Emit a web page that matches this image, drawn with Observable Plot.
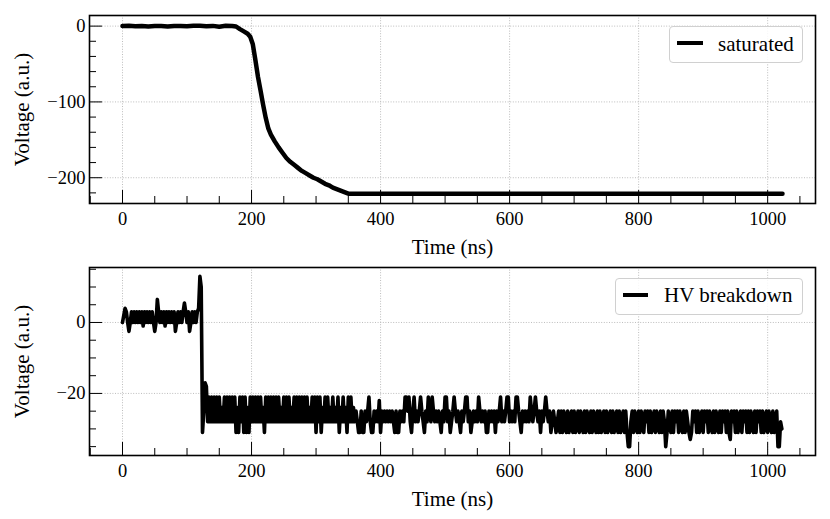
<!DOCTYPE html>
<html><head><meta charset="utf-8">
<script src="https://cdn.jsdelivr.net/npm/d3@7"></script>
<script src="https://cdn.jsdelivr.net/npm/@observablehq/plot@0.6"></script>
<style>
html,body{margin:0;padding:0;background:#fff;}
#wrap{position:relative;width:830px;height:519px;font-family:"Liberation Serif","Tinos","Times New Roman","Nimbus Roman","DejaVu Serif",serif;}
#wrap svg{display:block;}
g[aria-label="x-axis label"] text, g[aria-label="y-axis label"] text{font-size:21px;}
.legend{position:absolute;box-sizing:border-box;border:1px solid #d0d0d0;border-radius:4px;background:rgba(255,255,255,0.85);}
.legend .swatch{position:absolute;height:4px;background:#000;}
.legend .lab{position:absolute;font-size:21px;line-height:1;white-space:nowrap;color:#000;}
</style></head><body><div id="wrap"></div>
<script>
// ---- data ----
const xMajor = [0, 200, 400, 600, 800, 1000];
const xMinor = [-50, 50, 100, 150, 250, 300, 350, 450, 500, 550, 650, 700, 750, 850, 900, 950, 1050];
const xDomain = [-51.15, 1074.15];

const satTime = [0,10,20,30,40,50,60,70,80,90,100,110,120,130,140,150,160,170,176,182,188,194,198,202,206,210,214,218,222,226,230,236,242,248,254,260,266,272,278,284,290,296,302,308,314,320,326,332,338,344,350,356,400,500,600,700,800,900,1000,1023];
const satVolt = [0,0.4,-0.3,0.2,-0.4,0.3,0,-0.5,0.3,0.2,-0.3,0.4,0.5,-0.2,0.3,-0.8,0.4,0.2,-0.5,-4,-7,-10,-14,-24,-45,-67,-85,-104,-121,-135,-143,-152,-160,-167,-174,-179,-183,-187,-191,-194,-197,-200,-202,-205,-208,-210,-213,-215,-217,-219,-221,-221,-221,-221,-221,-221,-221,-221,-221,-221];
const satYMajor = [0, -100, -200];
const satYMinor = [-20, -40, -60, -80, -120, -140, -160, -180, -220];
const satYDomain = [-234, 14];

const hvStep = 2; // ns per sample
const hvVolt = [
  0,2,4,3,0,-2.5,0,3,0,3,0,3,0,3,0,3,-1,3,0,3,
  0,3,0,3,0,-2.5,0,6.5,3,0,3,0,3,-1,3,0,3,0,3,0,
  3,-2.5,0,3,0,3,0,3,5.5,3,0,3,-2.5,0,3,0,3,0,3,4,
  13,10,-31,-25,-17,-18,-28,-21,-28,-21,-28,-21,-28,-21,-28,-21,-28,-24,-28,-21,
  -28,-21,-28,-21,-28,-21,-28,-21,-31,-24,-31,-21,-28,-21,-31,-21,-31,-24,-31,-21,
  -28,-21,-28,-21,-28,-21,-28,-21,-28,-24,-31,-21,-28,-21,-28,-21,-28,-21,-28,-21,
  -28,-21,-28,-24,-28,-21,-28,-21,-28,-21,-28,-24,-28,-21,-28,-21,-28,-21,-28,-21,
  -28,-21,-28,-21,-28,-24,-28,-21,-28,-21,-31,-21,-28,-21,-31,-24,-28,-21,-28,-21,
  -28,-24,-28,-21,-28,-24,-28,-21,-31,-24,-28,-21,-28,-24,-31,-21,-28,-21,-28,-24,
  -28,-25,-28,-31,-31,-25,-31,-31,-25,-28,-25,-21,-28,-31,-31,-25,-28,-25,-28,-22,
  -31,-25,-28,-25,-28,-25,-28,-25,-28,-25,-28,-31,-25,-31,-31,-25,-28,-25,-28,-21,
  -21,-25,-21,-28,-31,-25,-21,-28,-25,-28,-25,-21,-25,-28,-31,-25,-28,-21,-25,-28,
  -21,-25,-28,-25,-28,-25,-28,-31,-25,-28,-21,-21,-28,-25,-31,-28,-25,-21,-25,-28,
  -25,-28,-31,-25,-28,-25,-21,-21,-28,-25,-31,-28,-25,-28,-25,-28,-21,-25,-28,-25,
  -28,-25,-31,-31,-25,-28,-25,-28,-25,-31,-25,-28,-25,-21,-28,-25,-28,-25,-21,-21,
  -28,-25,-28,-25,-28,-21,-21,-25,-28,-31,-25,-28,-25,-28,-25,-28,-21,-25,-28,-25,
  -21,-25,-28,-25,-31,-25,-28,-25,-21,-25,-28,-25,-31,-28,-25,-28,-31,-28,-25,-31,
  -25,-31,-25,-28,-31,-25,-31,-28,-25,-31,-25,-31,-28,-25,-31,-25,-28,-31,-25,-31,
  -25,-28,-31,-25,-31,-25,-28,-31,-25,-31,-25,-31,-28,-25,-31,-25,-31,-28,-25,-31,
  -25,-31,-28,-25,-31,-25,-31,-28,-25,-31,-25,-31,-35,-35,-28,-25,-31,-25,-28,-31,
  -25,-31,-25,-28,-31,-25,-28,-25,-31,-25,-31,-28,-25,-31,-25,-28,-31,-25,-31,-25,
  -28,-35,-31,-25,-28,-31,-25,-31,-25,-28,-25,-31,-25,-28,-31,-25,-31,-25,-28,-31,
  -33,-31,-25,-28,-25,-31,-25,-31,-28,-25,-31,-25,-28,-25,-31,-25,-28,-31,-25,-31,
  -25,-28,-31,-25,-31,-25,-28,-25,-31,-25,-31,-33,-25,-28,-25,-31,-25,-31,-28,-25,
  -31,-25,-28,-25,-31,-25,-31,-25,-28,-31,-25,-31,-25,-28,-25,-31,-25,-31,-28,-25,
  -31,-25,-28,-31,-25,-31,-28,-25,-35,-35,-28,-30
];
const hvYMajor = [0, -20];
const hvYMinor = [15, 10, 5, -5, -10, -15, -25, -30, -35];
const hvYDomain = [-37.5, 15.5];

const satData = satTime.map((t, i) => ({t, v: satVolt[i]}));
const hvData = hvVolt.map((v, i) => ({t: i * hvStep, v}));

const fmt = d => String(d).replace("-", "\u2212");
const FONT = "Liberation Serif, Tinos, Times New Roman, Nimbus Roman, DejaVu Serif, serif";

function panel({data, yDomain, yMajor, yMinor, height, marginTop, marginBottom, sw}) {
  const W = 830, mL = 89, mR = 15;
  const frameH = height - marginTop - marginBottom;
  const frameW = W - mL - mR;
  const grid = {stroke: "#b5b5b5", strokeOpacity: 1, strokeWidth: 0.9, strokeDasharray: "1,1.6"};
  return Plot.plot({
    width: W, height, marginLeft: mL, marginRight: mR, marginTop, marginBottom,
    style: {fontFamily: FONT, fontSize: "18.5px", color: "#000", background: "#fff", overflow: "visible"},
    x: {domain: xDomain},
    y: {domain: yDomain},
    marks: [
      Plot.gridX(xMajor, grid),
      Plot.gridY(yMajor, grid),
      Plot.line(data, {x: "t", y: "v", stroke: "#000", strokeWidth: sw, strokeLinejoin: "round", strokeLinecap: "round"}),
      Plot.ruleX(xMajor, {x: d => d, stroke: "#000", strokeWidth: 1, insetTop: frameH - 13}),
      Plot.ruleX(xMinor, {x: d => d, stroke: "#000", strokeWidth: 1, insetTop: frameH - 7}),
      Plot.ruleY(yMajor, {y: d => d, stroke: "#000", strokeWidth: 1, insetRight: frameW - 13}),
      Plot.ruleY(yMinor, {y: d => d, stroke: "#000", strokeWidth: 1, insetRight: frameW - 7}),
      Plot.axisX(xMajor, {tickSize: 0, tickPadding: 8, tickFormat: fmt, label: "Time (ns)", labelAnchor: "center", labelArrow: "none", labelOffset: 50}),
      Plot.axisY(yMajor, {tickSize: 0, tickPadding: 4, tickFormat: fmt, label: "Voltage (a.u.)", labelAnchor: "center", labelArrow: "none", labelOffset: 75}),
      Plot.frame({stroke: "#000", strokeWidth: 1.6})
    ]
  });
}

const wrap = document.getElementById("wrap");
wrap.appendChild(panel({data: satData, yDomain: satYDomain, yMajor: satYMajor, yMinor: satYMinor, height: 255, marginTop: 15, marginBottom: 52, sw: 4.5}));
wrap.appendChild(panel({data: hvData, yDomain: hvYDomain, yMajor: hvYMajor, yMinor: hvYMinor, height: 264, marginTop: 12, marginBottom: 64, sw: 3.6}));

function legend(label, box, sw, textX, baseline) {
  const d = document.createElement("div");
  d.className = "legend";
  Object.assign(d.style, {left: box[0] + "px", top: box[1] + "px", width: (box[2] - box[0]) + "px", height: (box[3] - box[1]) + "px"});
  const s = document.createElement("div");
  s.className = "swatch";
  Object.assign(s.style, {left: (sw[0] - box[0]) + "px", width: (sw[1] - sw[0]) + "px", top: (sw[2] - box[1] - 2) + "px"});
  const t = document.createElement("div");
  t.className = "lab";
  t.textContent = label;
  Object.assign(t.style, {left: (textX - box[0]) + "px", top: (baseline - box[1] - 17) + "px"});
  d.appendChild(s); d.appendChild(t);
  wrap.appendChild(d);
}
legend("saturated", [669, 26, 803, 63], [676, 702, 42], 717, 50);
legend("HV breakdown", [615, 278, 803, 315], [622, 647, 294], 663, 301);
</script>
</body></html>
